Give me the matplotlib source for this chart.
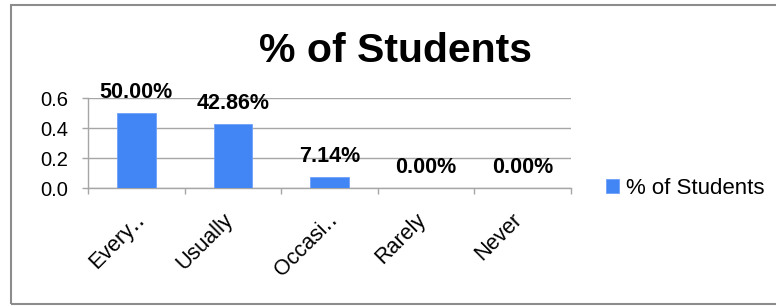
import matplotlib
matplotlib.use("Agg")
import matplotlib.pyplot as plt
from matplotlib.patches import Rectangle
from matplotlib.transforms import ScaledTranslation
import numpy as np

categories = ["Every\u2025", "Usually", "Occasi\u2025", "Rarely", "Never"]
values = [0.5, 0.4286, 0.0714, 0.0, 0.0]
value_labels = ["50.00%", "42.86%", "7.14%", "0.00%", "0.00%"]
series_name = "% of Students"
title = "% of Students"
yticks = [0.0, 0.2, 0.4, 0.6]

plt.rcParams['font.family'] = ['Liberation Sans', 'DejaVu Sans']

W, H = 776, 306
fig = plt.figure(figsize=(W / 100, H / 100), dpi=100)
ax = fig.add_axes([88 / W, 1 - 188 / H, (571 - 88) / W, (188 - 98) / H])

x = np.arange(len(categories))
bar_color = "#4285f4"
bars = ax.bar(x, values, width=0.4, color=bar_color, edgecolor="#6fa0f7", linewidth=0.6,
              label=series_name, zorder=3)

for xi, v, lab in zip(x, values, value_labels):
    ax.annotate(lab, (xi, v), xytext=(0, 10.8), textcoords="offset points",
                ha="center", va="baseline", fontsize=15.5, fontweight="bold", zorder=4)

ax.set_xlim(-0.5, len(categories) - 0.5)
ax.set_ylim(0, 0.6)
ax.set_yticks(yticks)
ax.set_yticklabels([f"{t:.1f}" for t in yticks], fontsize=14.5)
ax.yaxis.grid(True, color="#a6a6a6", linewidth=1.0, zorder=0)
ax.set_axisbelow(True)

ax.set_xticks(x)
ax.set_xticks(np.arange(len(categories) + 1) - 0.5, minor=True)
ax.tick_params(axis="x", which="major", length=0, pad=15)
ax.tick_params(axis="x", which="minor", length=4.5, color="#a6a6a6", width=1.0)
ax.tick_params(axis="y", length=4.5, color="#a6a6a6", width=1.0, pad=10)
ax.set_xticklabels(categories, rotation=45, ha="right", va="top", fontsize=15.5,
                   rotation_mode="default")
for lbl in ax.get_xticklabels():
    dx = 0.13 if lbl.get_text().endswith("\u2025") else 0.04
    lbl.set_transform(lbl.get_transform() + ScaledTranslation(dx, 0, fig.dpi_scale_trans))

for s in ["top", "right"]:
    ax.spines[s].set_visible(False)
for s in ["left", "bottom"]:
    ax.spines[s].set_color("#a6a6a6")
    ax.spines[s].set_linewidth(1.0)

fig.text(0.51, 1 - 62 / H, title, ha="center", va="baseline", fontsize=29.5, fontweight="bold")

fig.legend(handles=[bars], labels=[series_name], loc="center left",
           bbox_to_anchor=(597 / W, 1 - 188 / H), frameon=False, fontsize=16,
           handlelength=0.6, handleheight=0.6, handletextpad=0.3, borderaxespad=0)

border = Rectangle((11 / W, 1 - 304 / H), (W + 5 - 11) / W, (304 - 5) / H,
                   transform=fig.transFigure, fill=False, edgecolor="#8c8c8c",
                   linewidth=1.5, clip_on=False)
fig.patches.append(border)

fig.savefig("out.png", dpi=100)
